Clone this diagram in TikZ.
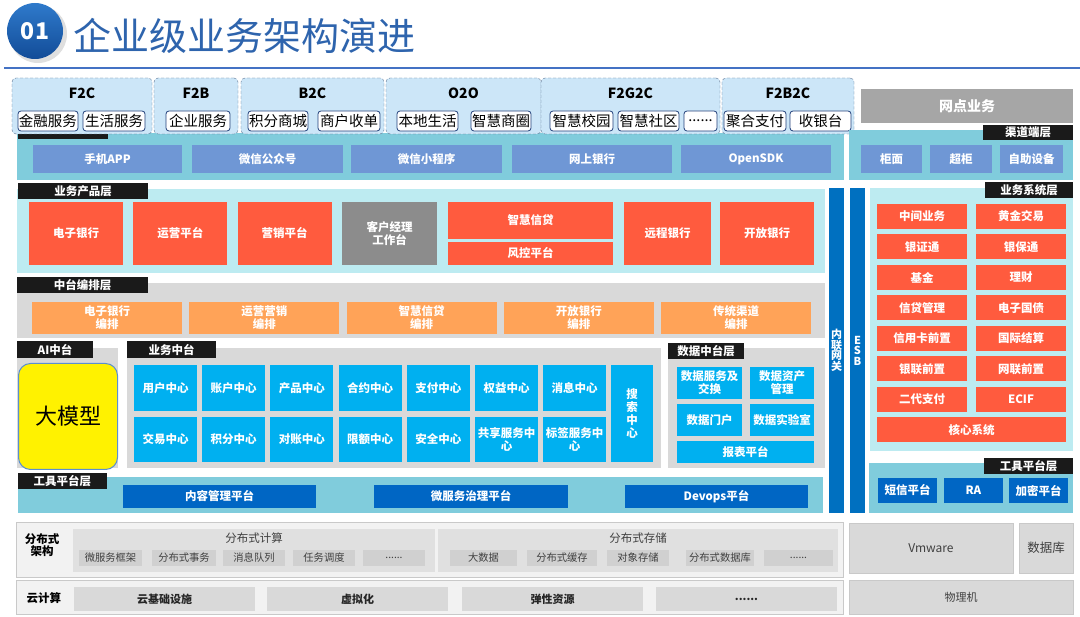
\documentclass[tikz,border=0pt]{standalone}
\usepackage{fontspec}
\setmainfont{Noto Sans CJK SC}
\usetikzlibrary{positioning}

\definecolor{titleblue}{HTML}{2E64AD}
\definecolor{numblue}{HTML}{124C98}
\definecolor{numlight}{HTML}{2F7ACB}
\definecolor{ruleblue}{HTML}{4472C4}
\definecolor{topfill}{HTML}{CCE6F8}
\definecolor{topline}{HTML}{5B7290}
\definecolor{subline}{HTML}{22407A}
\definecolor{chanband}{HTML}{80CCDC}
\definecolor{chancell}{HTML}{6F97D5}
\definecolor{prodband}{HTML}{BDEBF1}
\definecolor{redcell}{HTML}{FF5B3E}
\definecolor{graycell}{HTML}{8C8C8C}
\definecolor{midband}{HTML}{D9D9D9}
\definecolor{orangecell}{HTML}{FFA358}
\definecolor{bizcell}{HTML}{00B0F0}
\definecolor{barblue}{HTML}{0070C0}
\definecolor{toolcell}{HTML}{0066C4}
\definecolor{lblblack}{HTML}{1A1A1A}
\definecolor{dotgray}{HTML}{A6A6A6}
\definecolor{yelline}{HTML}{5B8FD0}
\definecolor{baseband}{HTML}{F2F2F2}
\definecolor{baseedge}{HTML}{C9C9C9}
\definecolor{baseinner}{HTML}{E0E0E0}
\definecolor{basecell}{HTML}{D0D0D0}
\definecolor{basetext}{HTML}{404040}

\newcommand{\fntlbl}{\bfseries\fontsize{11.5}{12}\selectfont}
\newcommand{\fntcell}{\bfseries\fontsize{11.5}{13}\selectfont}
\newcommand{\fnttop}{\bfseries\fontsize{14}{14}\selectfont}
\newcommand{\fntsub}{\fontsize{14.5}{14.5}\selectfont}
\newcommand{\fntbase}{\fontsize{10.3}{11}\selectfont}
\newcommand{\dotsix}{......}

\tikzset{
  wh/.style 2 args={minimum width=#1, minimum height=#2},
  lbl/.style={fill=lblblack, text=white, font=\fntlbl, inner sep=0, outer sep=0, anchor=north west},
  cell/.style={inner sep=0, outer sep=0, anchor=north west, text=white, font=\fntcell, align=center},
  topbox/.style={draw=topline, densely dashed, fill=topfill, rounded corners=4, inner sep=0, outer sep=0, anchor=north west},
  subbox/.style={draw=subline, fill=white, rounded corners=3, line width=0.8pt, inner sep=0, outer sep=0, anchor=north west, font=\fntsub, wh={#1}{20}},
  basecellbox/.style={fill=basecell, inner sep=0, outer sep=0, anchor=north west, text=basetext, font=\fntbase},
  basebox/.style={draw=baseedge, fill=midband, inner sep=0, outer sep=0, anchor=north west, text=basetext}
}

\begin{document}
\begin{tikzpicture}[x=1pt,y=-1pt]
\useasboundingbox (0,0) rectangle (1080,617);

% title
\fill[black!25, opacity=0.5] (38,34) circle [radius=29];
\node[circle, top color=numlight, bottom color=numblue, minimum size=56, inner sep=0, text=white, font=\bfseries\fontsize{23}{23}\selectfont] (num) at (35,31) {01};
\node[anchor=west, inner sep=0, text=titleblue, font=\fontsize{38}{38}\selectfont] (title) at (73,36) {企业级业务架构演进};
\draw[ruleblue, line width=1.6pt] (4,68) -- (1080,68);

% channel layer
\fill[chanband] (17,133) rectangle (844,180);
\fill[lblblack] (18,124) rectangle (108,139);
\foreach \x/\w/\t [count=\i] in {33/149/手机APP, 192/151/微信公众号, 351/151/微信小程序, 512/160/网上银行, 681/150/OpenSDK}
  \node[cell, fill=chancell, wh={\w}{28}] (chan\i) at (\x,145) {\t};

% top scenes
\foreach \x/\w/\t [count=\i] in {12/140/F2C, 154/84/F2B, 241/143/B2C, 386/155/O2O, 541/179/F2G2C, 722/132/F2B2C}{
  \node[topbox, wh={\w}{56}] (top\i) at (\x,78) {};
  \node[inner sep=0, font=\fnttop] (toptitle\i) at (\x+\w/2,93) {\t};};
\foreach \x/\w/\t [count=\i] in {18/60/金融服务, 83/62/生活服务, 166/64/企业服务, 248/60/积分商城, 318/62/商户收单, 397/61/本地生活, 471/60/智慧商圈, 550/63/智慧校园, 618/61/智慧社区, 684/33/\dotsix, 724/62/聚合支付, 790/61/收银台}
  \node[subbox=\w] (sub\i) at (\x,111) {\t};

% right channel
\node[cell, fill=dotgray, wh={212}{34}, font=\bfseries\fontsize{14}{14}\selectfont] (wangdian) at (861,89) {网点业务};
\fill[chanband] (849,130) rectangle (1073,180);
\node[lbl, wh={90}{15}] (chanlblr) at (983,125) {渠道端层};
\foreach \x/\w/\t [count=\i] in {861/61/柜面, 930/62/超柜, 1000/63/自助设备}
  \node[cell, fill=chancell, wh={\w}{28}] (chanr\i) at (\x,145) {\t};

% product layer
\fill[prodband] (17,189) rectangle (825,273);
\node[lbl, wh={130}{16}] (prodlbl) at (18,183) {业务产品层};
\foreach \t [count=\i] in {电子银行, 运营平台, 营销平台}
  \node[cell, fill=redcell, wh={94}{63}] (prod\i) at (29+104.3*\i-104.3,202) {\t};
\node[cell, fill=graycell, wh={95}{63}] (khjl) at (342,202) {客户经理\\工作台};
\node[cell, fill=redcell, wh={165}{37}] (zhxd) at (448,202) {智慧信贷};
\node[cell, fill=redcell, wh={165}{23}] (fkpt) at (448,242) {风控平台};
\node[cell, fill=redcell, wh={87}{63}] (ycyh) at (624,202) {远程银行};
\node[cell, fill=redcell, wh={94}{63}] (kfyh) at (720,202) {开放银行};

% orchestration layer
\fill[midband] (17,283) rectangle (825,338);
\node[lbl, wh={131}{16}] (midlbl) at (17,277) {中台编排层};
\foreach \t [count=\i] in {电子银行, 运营营销, 智慧信贷, 开放银行, 传统渠道}
  \node[cell, fill=orangecell, wh={150}{32}] (bp\i) at (32+157.3*\i-157.3,302) {\t\\编排};

% gateway bars
\node[cell, fill=barblue, wh={15}{325}, font=\bfseries\fontsize{11}{10.5}\selectfont] (nlwg) at (829,188) {内\\联\\网\\关};
\node[cell, fill=barblue, wh={15}{325}, font=\bfseries\fontsize{11}{10.5}\selectfont] (esb) at (850,188) {E\\S\\B};

% business systems
\fill[prodband] (870,188) rectangle (1073,451);
\node[lbl, wh={88}{16}] (syslbl) at (985,182) {业务系统层};
\foreach \a/\b [count=\i from 0] in {中间业务/黄金交易, 银证通/银保通, 基金/理财, 信贷管理/电子国债, 信用卡前置/国际结算, 银联前置/网联前置, 二代支付/ECIF}{
  \node[cell, fill=redcell, wh={90}{25}] (sysa\i) at (877,204+30.5*\i) {\a};
  \node[cell, fill=redcell, wh={90}{25}] (sysb\i) at (976,204+30.5*\i) {\b};};
\node[cell, fill=redcell, wh={189}{25}] (hxxt) at (877,417.5) {核心系统};

% AI
\fill[midband] (17,348) rectangle (118,468);
\node[lbl, wh={76}{17}] (ailbl) at (17,341) {AI中台};
\node[draw=yelline, fill=yellow, rounded corners=12, line width=1pt, wh={99}{106}, inner sep=0, anchor=north west, font=\fontsize{22}{22}\selectfont] (damx) at (18,363) {大模型};

% business center
\fill[midband] (127,348) rectangle (661,468);
\node[lbl, wh={89}{17}] (bizlbl) at (127,341) {业务中台};
\foreach \t [count=\i] in {用户中心, 账户中心, 产品中心, 合约中心, 支付中心, 权益中心, 消息中心}
  \node[cell, fill=bizcell, wh={63}{46}] (biza\i) at (134+68.2*\i-68.2,365) {\t};
\foreach \t [count=\i] in {交易中心, 积分中心, 对账中心, 限额中心, 安全中心, 共享服务中\\心, 标签服务中\\心}
  \node[cell, fill=bizcell, wh={63}{45}] (bizb\i) at (134+68.2*\i-68.2,417) {\t};
\node[cell, fill=bizcell, wh={42}{97}, font=\bfseries\fontsize{11.5}{13.3}\selectfont] (sszx) at (611,365) {搜\\索\\中\\心};

% data center
\fill[midband] (668,348) rectangle (825,468);
\node[lbl, wh={76}{16}] (datalbl) at (668,343) {数据中台层};
\node[cell, fill=bizcell, wh={65}{32}] (sjfw) at (677,367) {数据服务及\\交换};
\node[cell, fill=bizcell, wh={64}{32}] (sjzc) at (750,367) {数据资产\\管理};
\node[cell, fill=bizcell, wh={65}{32}] (sjmh) at (677,404) {数据门户};
\node[cell, fill=bizcell, wh={64}{32}] (sjsy) at (750,404) {数据实验室};
\node[cell, fill=bizcell, wh={137}{22}] (bbpt) at (677,441) {报表平台};

% tool layer
\fill[chanband] (18,477) rectangle (823,513);
\node[lbl, wh={89}{16}] (toollbl) at (18,473) {工具平台层};
\foreach \x/\w/\t [count=\i] in {123/193/内容管理平台, 374/194/微服务治理平台, 625/183/Devops平台}
  \node[cell, fill=toolcell, wh={\w}{23}] (tool\i) at (\x,485) {\t};
\fill[chanband] (869,463) rectangle (1073,513);
\node[lbl, wh={89}{16}] (toollblr) at (984,458) {工具平台层};
\foreach \x/\t [count=\i] in {878/短信平台, 944/RA, 1009/加密平台}
  \node[cell, fill=toolcell, wh={59}{25}] (toolr\i) at (\x,478) {\t};

% distributed
\draw[baseedge, fill=baseband] (16,522) rectangle (843,577);
\node[align=center, inner sep=0, font=\bfseries\fontsize{11.5}{12}\selectfont] (fbs) at (42,545) {分布式\\架构};
\fill[baseinner] (73,529) rectangle (435,572);
\node[inner sep=0, text=basetext, font=\fontsize{11.5}{12}\selectfont] (fbsjs) at (254,538) {分布式计算};
\foreach \x/\w/\t [count=\i] in {79/63/微服务框架, 152/64/分布式事务, 223/62/消息队列, 293/62/任务调度, 363/62/\dotsix}
  \node[basecellbox, wh={\w}{16}] (js\i) at (\x,550) {\t};
\fill[baseinner] (438,529) rectangle (838,572);
\node[inner sep=0, text=basetext, font=\fontsize{11.5}{12}\selectfont] (fbscc) at (638,538) {分布式存储};
\foreach \x/\w/\t [count=\i] in {450/67/大数据, 527/70/分布式缓存, 607/62/对象存储, 686/68/分布式数据库, 764/69/\dotsix}
  \node[basecellbox, wh={\w}{16}] (cc\i) at (\x,550) {\t};
\node[basebox, wh={164}{50}, font=\fontsize{12}{12}\selectfont] (vmware) at (849,523) {Vmware};
\node[basebox, wh={54}{50}, font=\fontsize{12.5}{12}\selectfont] (sjk) at (1019,523) {数据库};

% cloud
\draw[baseedge, fill=baseband] (16,580) rectangle (843,614);
\node[inner sep=0, font=\bfseries\fontsize{11.5}{12}\selectfont] (yjs) at (44,598) {云计算};
\foreach \x/\t [count=\i] in {74/云基础设施, 267/虚拟化, 462/弹性资源, 656/\dotsix}
  \node[basecellbox, fill=midband, wh={181}{24}, text=black!85, font=\bfseries\fontsize{11}{12}\selectfont] (yun\i) at (\x,587) {\t};
\node[basebox, wh={224}{34}, font=\fontsize{11}{12}\selectfont] (wlj) at (849,580) {物理机};
\end{tikzpicture}
\end{document}
